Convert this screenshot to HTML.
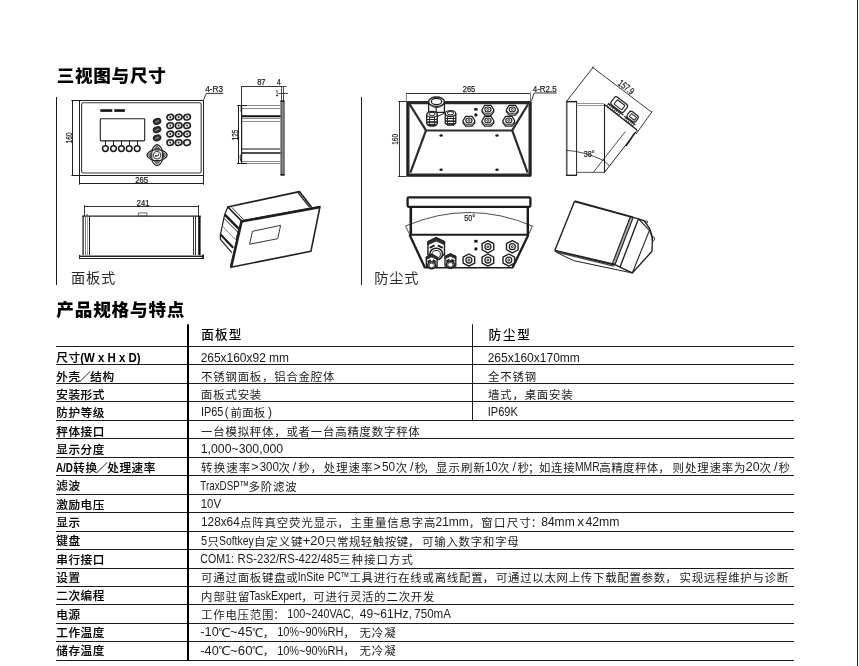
<!DOCTYPE html>
<html lang="zh-CN">
<head>
<meta charset="utf-8">
<title>三视图与尺寸 / 产品规格与特点</title>
<style>
html,body{margin:0;padding:0;background:#fff;}
body{width:859px;height:666px;overflow:hidden;position:relative;}
svg{position:absolute;left:0;top:0;display:block;will-change:transform;filter:grayscale(1);}
text{font-family:"Liberation Sans", "Noto Sans CJK SC", sans-serif;white-space:pre;}
text.c{font-family:"Noto Sans CJK SC","Liberation Sans",sans-serif;}
text.w{font-family:"WenQuanYi Zen Hei","Noto Sans CJK SC",sans-serif;}
</style>
</head>
<body>
<svg width="859" height="666" viewBox="0 0 859 666">
<rect width="859" height="666" fill="#fff"/>
<g id="drawings" fill="none" stroke="#111" stroke-width="1" stroke-linejoin="round" stroke-linecap="butt">
<g id="panel-front">
<line x1="71.40" y1="100.50" x2="203.80" y2="100.50" stroke="#1f1f1f" stroke-width="1.0" stroke-linecap="butt"/>
<line x1="72.50" y1="100.10" x2="72.50" y2="175.90" stroke="#1f1f1f" stroke-width="1.0" stroke-linecap="butt"/>
<line x1="71.40" y1="175.50" x2="203.80" y2="175.50" stroke="#1f1f1f" stroke-width="1.0" stroke-linecap="butt"/>
<line x1="79.50" y1="100.60" x2="79.50" y2="184.70" stroke="#1f1f1f" stroke-width="1.0" stroke-linecap="butt"/>
<line x1="203.50" y1="100.60" x2="203.50" y2="184.70" stroke="#1f1f1f" stroke-width="1.0" stroke-linecap="butt"/>
<line x1="79.20" y1="183.50" x2="203.30" y2="183.50" stroke="#1f1f1f" stroke-width="1.0" stroke-linecap="butt"/>
<rect x="81.60" y="102.80" width="119.60" height="70.20" rx="1.6" stroke="#3a3a3a" stroke-width="1.1" fill="none"/>
<path d="M203.30 100.60 L206.30 93.40 L223.30 93.40" stroke="#1f1f1f" stroke-width="0.9" fill="none" stroke-linejoin="round"/>
<text x="205.20" y="92.20" font-size="9.9" font-weight="400" text-anchor="start" fill="#222" stroke="#222" stroke-width="0.25" textLength="18.0" lengthAdjust="spacingAndGlyphs">4-R3</text>
<text x="72.00" y="143.30" font-size="9.9" font-weight="400" text-anchor="start" fill="#222" stroke="#222" stroke-width="0.25" textLength="10.8" lengthAdjust="spacingAndGlyphs" transform="rotate(-90 72.00 143.30)">160</text>
<text x="135.20" y="182.60" font-size="9.9" font-weight="400" text-anchor="start" fill="#222" stroke="#222" stroke-width="0.25" textLength="13.0" lengthAdjust="spacingAndGlyphs">265</text>
<rect x="100.30" y="109.20" width="12.00" height="2.70" rx="0" stroke="#1f1f1f" stroke-width="0" fill="#1a1a1a"/>
<rect x="114.30" y="109.20" width="10.60" height="2.70" rx="0" stroke="#1f1f1f" stroke-width="0" fill="#1a1a1a"/>
<rect x="100.30" y="118.70" width="44.40" height="22.20" rx="0.8" stroke="#1f1f1f" stroke-width="1.1" fill="none"/>
<line x1="105.50" y1="140.90" x2="105.50" y2="145.60" stroke="#1f1f1f" stroke-width="1.0" stroke-linecap="butt"/>
<ellipse cx="105.40" cy="148.60" rx="2.85" ry="2.85" stroke="#1f1f1f" stroke-width="1.5" fill="none"/>
<line x1="113.50" y1="140.90" x2="113.50" y2="145.60" stroke="#1f1f1f" stroke-width="1.0" stroke-linecap="butt"/>
<ellipse cx="113.50" cy="148.60" rx="2.85" ry="2.85" stroke="#1f1f1f" stroke-width="1.5" fill="none"/>
<line x1="121.50" y1="140.90" x2="121.50" y2="145.60" stroke="#1f1f1f" stroke-width="1.0" stroke-linecap="butt"/>
<ellipse cx="121.40" cy="148.60" rx="2.85" ry="2.85" stroke="#1f1f1f" stroke-width="1.5" fill="none"/>
<line x1="129.50" y1="140.90" x2="129.50" y2="145.60" stroke="#1f1f1f" stroke-width="1.0" stroke-linecap="butt"/>
<ellipse cx="129.20" cy="148.60" rx="2.85" ry="2.85" stroke="#1f1f1f" stroke-width="1.5" fill="none"/>
<line x1="137.50" y1="140.90" x2="137.50" y2="145.60" stroke="#1f1f1f" stroke-width="1.0" stroke-linecap="butt"/>
<ellipse cx="137.20" cy="148.60" rx="2.85" ry="2.85" stroke="#1f1f1f" stroke-width="1.5" fill="none"/>
<ellipse cx="157.10" cy="121.40" rx="3.70" ry="2.75" stroke="#1f1f1f" stroke-width="1.3" fill="#3a3a3a" transform="rotate(-18 157.10 121.40)"/>
<line x1="155.30" y1="122.30" x2="158.90" y2="120.50" stroke="#c8c8c8" stroke-width="0.7" stroke-linecap="butt"/>
<ellipse cx="157.10" cy="129.70" rx="3.70" ry="2.75" stroke="#1f1f1f" stroke-width="1.3" fill="#3a3a3a" transform="rotate(-18 157.10 129.70)"/>
<line x1="155.30" y1="130.60" x2="158.90" y2="128.80" stroke="#c8c8c8" stroke-width="0.7" stroke-linecap="butt"/>
<ellipse cx="157.10" cy="137.90" rx="3.70" ry="2.75" stroke="#1f1f1f" stroke-width="1.3" fill="#3a3a3a" transform="rotate(-18 157.10 137.90)"/>
<line x1="155.30" y1="138.80" x2="158.90" y2="137.00" stroke="#c8c8c8" stroke-width="0.7" stroke-linecap="butt"/>
<ellipse cx="170.30" cy="117.20" rx="3.35" ry="2.80" stroke="#1f1f1f" stroke-width="1.55" fill="#ececec" transform="rotate(-12 170.30 117.20)"/>
<ellipse cx="170.30" cy="117.20" rx="0.90" ry="1.10" stroke="#1f1f1f" stroke-width="0" fill="#2a2a2a"/>
<ellipse cx="178.70" cy="117.20" rx="3.35" ry="2.80" stroke="#1f1f1f" stroke-width="1.55" fill="#ececec" transform="rotate(-12 178.70 117.20)"/>
<ellipse cx="178.70" cy="117.20" rx="0.90" ry="1.10" stroke="#1f1f1f" stroke-width="0" fill="#2a2a2a"/>
<ellipse cx="187.10" cy="117.20" rx="3.35" ry="2.80" stroke="#1f1f1f" stroke-width="1.55" fill="#ececec" transform="rotate(-12 187.10 117.20)"/>
<ellipse cx="187.10" cy="117.20" rx="0.90" ry="1.10" stroke="#1f1f1f" stroke-width="0" fill="#2a2a2a"/>
<ellipse cx="170.30" cy="125.60" rx="3.35" ry="2.80" stroke="#1f1f1f" stroke-width="1.55" fill="#ececec" transform="rotate(-12 170.30 125.60)"/>
<ellipse cx="170.30" cy="125.60" rx="0.90" ry="1.10" stroke="#1f1f1f" stroke-width="0" fill="#2a2a2a"/>
<ellipse cx="178.70" cy="125.60" rx="3.35" ry="2.80" stroke="#1f1f1f" stroke-width="1.55" fill="#ececec" transform="rotate(-12 178.70 125.60)"/>
<ellipse cx="178.70" cy="125.60" rx="0.90" ry="1.10" stroke="#1f1f1f" stroke-width="0" fill="#2a2a2a"/>
<ellipse cx="187.10" cy="125.60" rx="3.35" ry="2.80" stroke="#1f1f1f" stroke-width="1.55" fill="#ececec" transform="rotate(-12 187.10 125.60)"/>
<ellipse cx="187.10" cy="125.60" rx="0.90" ry="1.10" stroke="#1f1f1f" stroke-width="0" fill="#2a2a2a"/>
<ellipse cx="170.30" cy="134.00" rx="3.35" ry="2.80" stroke="#1f1f1f" stroke-width="1.55" fill="#ececec" transform="rotate(-12 170.30 134.00)"/>
<ellipse cx="170.30" cy="134.00" rx="0.90" ry="1.10" stroke="#1f1f1f" stroke-width="0" fill="#2a2a2a"/>
<ellipse cx="178.70" cy="134.00" rx="3.35" ry="2.80" stroke="#1f1f1f" stroke-width="1.55" fill="#ececec" transform="rotate(-12 178.70 134.00)"/>
<ellipse cx="178.70" cy="134.00" rx="0.90" ry="1.10" stroke="#1f1f1f" stroke-width="0" fill="#2a2a2a"/>
<ellipse cx="187.10" cy="134.00" rx="3.35" ry="2.80" stroke="#1f1f1f" stroke-width="1.55" fill="#ececec" transform="rotate(-12 187.10 134.00)"/>
<ellipse cx="187.10" cy="134.00" rx="0.90" ry="1.10" stroke="#1f1f1f" stroke-width="0" fill="#2a2a2a"/>
<ellipse cx="170.30" cy="142.60" rx="3.35" ry="2.80" stroke="#1f1f1f" stroke-width="1.55" fill="#ececec" transform="rotate(-12 170.30 142.60)"/>
<ellipse cx="170.30" cy="142.60" rx="0.90" ry="1.10" stroke="#1f1f1f" stroke-width="0" fill="#2a2a2a"/>
<ellipse cx="178.70" cy="142.60" rx="3.35" ry="2.80" stroke="#1f1f1f" stroke-width="1.55" fill="#ececec" transform="rotate(-12 178.70 142.60)"/>
<ellipse cx="178.70" cy="142.60" rx="0.90" ry="1.10" stroke="#1f1f1f" stroke-width="0" fill="#2a2a2a"/>
<ellipse cx="187.10" cy="142.60" rx="3.35" ry="2.80" stroke="#1f1f1f" stroke-width="1.55" fill="#ececec" transform="rotate(-12 187.10 142.60)"/>
<path d="M146.90 155.20 Q147.50 152.60 151.70 150.60 Q153.50 145.60 157.10 144.60 Q160.70 145.60 162.50 150.60 Q166.70 152.60 167.30 155.20 Q166.70 157.80 162.50 159.80 Q160.70 164.80 157.10 165.80 Q153.50 164.80 151.70 159.80 Q147.50 157.80 146.90 155.20 Z" stroke="#1f1f1f" stroke-width="1.1" fill="none" stroke-linejoin="round"/>
<rect x="151.80" y="149.90" width="10.60" height="10.60" rx="2.6" stroke="#1f1f1f" stroke-width="1.1" fill="none"/>
<ellipse cx="157.10" cy="155.20" rx="3.70" ry="3.90" stroke="#1f1f1f" stroke-width="0.9" fill="none"/>
<path d="M148.50 155.20 L150.70 152.70 L150.70 157.70 Z" stroke="#1f1f1f" stroke-width="0.8" fill="#9a9a9a" stroke-linejoin="round"/>
<path d="M165.70 155.20 L163.50 152.70 L163.50 157.70 Z" stroke="#1f1f1f" stroke-width="0.8" fill="#9a9a9a" stroke-linejoin="round"/>
<path d="M157.10 146.20 L154.50 148.70 L159.70 148.70 Z" stroke="#1f1f1f" stroke-width="0.8" fill="#9a9a9a" stroke-linejoin="round"/>
<path d="M157.10 164.20 L154.50 161.70 L159.70 161.70 Z" stroke="#1f1f1f" stroke-width="0.8" fill="#9a9a9a" stroke-linejoin="round"/>
<path d="M158.50 153.60 L158.50 155.80 L155.50 155.80" stroke="#1f1f1f" stroke-width="0.8" fill="none" stroke-linejoin="round"/>
<ellipse cx="155.80" cy="155.90" rx="0.80" ry="0.80" stroke="#1f1f1f" stroke-width="0" fill="#222"/>
</g>
<g id="panel-side">
<line x1="241.50" y1="86.30" x2="241.50" y2="105.50" stroke="#1f1f1f" stroke-width="0.9" stroke-linecap="butt"/>
<line x1="241.50" y1="86.50" x2="282.70" y2="86.50" stroke="#1f1f1f" stroke-width="0.9" stroke-linecap="butt"/>
<line x1="281.50" y1="86.30" x2="281.50" y2="100.70" stroke="#1f1f1f" stroke-width="0.8" stroke-linecap="butt"/>
<line x1="283.50" y1="86.30" x2="283.50" y2="100.70" stroke="#1f1f1f" stroke-width="0.8" stroke-linecap="butt"/>
<line x1="282.70" y1="86.50" x2="286.60" y2="86.50" stroke="#1f1f1f" stroke-width="0.8" stroke-linecap="butt"/>
<line x1="278.40" y1="93.50" x2="288.00" y2="93.50" stroke="#1f1f1f" stroke-width="0.8" stroke-linecap="butt"/>
<text x="257.20" y="85.40" font-size="9.6" font-weight="400" text-anchor="start" fill="#222" stroke="#222" stroke-width="0.25" textLength="8.3" lengthAdjust="spacingAndGlyphs">87</text>
<text x="276.80" y="85.40" font-size="9.6" font-weight="400" text-anchor="start" fill="#222" stroke="#222" stroke-width="0.25" textLength="4.0" lengthAdjust="spacingAndGlyphs">4</text>
<text x="275.80" y="96.40" font-size="9.6" font-weight="400" text-anchor="start" fill="#222" stroke="#222" stroke-width="0.25" textLength="2.6" lengthAdjust="spacingAndGlyphs">1</text>
<rect x="281.00" y="100.90" width="3.10" height="74.20" rx="0" stroke="#2a2a2a" stroke-width="0.9" fill="#8c8c8c"/>
<rect x="280.40" y="100.40" width="4.20" height="1.40" rx="0" stroke="#1f1f1f" stroke-width="0" fill="#222"/>
<rect x="280.40" y="174.00" width="4.20" height="1.50" rx="0" stroke="#1f1f1f" stroke-width="0" fill="#222"/>
<line x1="237.20" y1="105.50" x2="247.20" y2="105.50" stroke="#1f1f1f" stroke-width="1.0" stroke-linecap="butt"/>
<line x1="247.20" y1="105.50" x2="280.60" y2="105.50" stroke="#8a8a8a" stroke-width="1.0" stroke-linecap="butt"/>
<line x1="241.50" y1="108.50" x2="280.60" y2="108.50" stroke="#8a8a8a" stroke-width="1.0" stroke-linecap="butt"/>
<line x1="241.50" y1="116.20" x2="280.60" y2="116.20" stroke="#111" stroke-width="1.9" stroke-linecap="butt"/>
<line x1="241.50" y1="118.50" x2="280.60" y2="118.50" stroke="#8a8a8a" stroke-width="1.0" stroke-linecap="butt"/>
<line x1="241.50" y1="121.50" x2="280.60" y2="121.50" stroke="#8a8a8a" stroke-width="1.0" stroke-linecap="butt"/>
<line x1="241.50" y1="148.50" x2="280.60" y2="148.50" stroke="#8a8a8a" stroke-width="1.0" stroke-linecap="butt"/>
<line x1="241.50" y1="149.50" x2="280.60" y2="149.50" stroke="#8a8a8a" stroke-width="1.0" stroke-linecap="butt"/>
<line x1="241.50" y1="153.00" x2="280.60" y2="153.00" stroke="#111" stroke-width="1.7" stroke-linecap="butt"/>
<line x1="241.50" y1="161.50" x2="280.60" y2="161.50" stroke="#8a8a8a" stroke-width="1.0" stroke-linecap="butt"/>
<line x1="237.00" y1="163.50" x2="247.60" y2="163.50" stroke="#1f1f1f" stroke-width="1.0" stroke-linecap="butt"/>
<line x1="247.60" y1="163.50" x2="280.60" y2="163.50" stroke="#8a8a8a" stroke-width="1.0" stroke-linecap="butt"/>
<line x1="238.50" y1="105.50" x2="238.50" y2="163.50" stroke="#1f1f1f" stroke-width="1.0" stroke-linecap="butt"/>
<line x1="241.60" y1="105.50" x2="241.60" y2="163.50" stroke="#1f1f1f" stroke-width="1.2" stroke-linecap="butt"/>
<line x1="240.50" y1="105.50" x2="240.50" y2="112.00" stroke="#8a8a8a" stroke-width="0.8" stroke-linecap="butt"/>
<path d="M240.4 154.5 Q239.6 158 241.0 161.5" stroke="#1f1f1f" stroke-width="0.9" fill="none" stroke-linejoin="round"/>
<text x="237.60" y="140.20" font-size="9.6" font-weight="400" text-anchor="start" fill="#222" stroke="#222" stroke-width="0.25" textLength="10.6" lengthAdjust="spacingAndGlyphs" transform="rotate(-90 237.60 140.20)">125</text>
</g>
<g id="panel-top">
<line x1="84.50" y1="205.10" x2="84.50" y2="216.20" stroke="#1f1f1f" stroke-width="0.9" stroke-linecap="butt"/>
<line x1="198.50" y1="205.10" x2="198.50" y2="216.20" stroke="#1f1f1f" stroke-width="0.9" stroke-linecap="butt"/>
<line x1="84.40" y1="206.50" x2="198.50" y2="206.50" stroke="#1f1f1f" stroke-width="0.9" stroke-linecap="butt"/>
<text x="136.80" y="205.60" font-size="9.7" font-weight="400" text-anchor="start" fill="#222" stroke="#222" stroke-width="0.25" textLength="12.6" lengthAdjust="spacingAndGlyphs">241</text>
<line x1="82.20" y1="216.10" x2="200.80" y2="216.10" stroke="#1f1f1f" stroke-width="1.3" stroke-linecap="butt"/>
<rect x="138.40" y="212.90" width="8.50" height="3.10" rx="0" stroke="#444" stroke-width="0.8" fill="none"/>
<line x1="83.10" y1="216.00" x2="83.10" y2="255.00" stroke="#1f1f1f" stroke-width="1.3" stroke-linecap="butt"/>
<line x1="85.50" y1="216.50" x2="85.50" y2="255.00" stroke="#666" stroke-width="0.9" stroke-linecap="butt"/>
<line x1="87.50" y1="216.50" x2="87.50" y2="255.00" stroke="#999" stroke-width="0.9" stroke-linecap="butt"/>
<line x1="89.50" y1="216.50" x2="89.50" y2="255.00" stroke="#1f1f1f" stroke-width="1.0" stroke-linecap="butt"/>
<ellipse cx="87.30" cy="215.00" rx="0.90" ry="0.80" stroke="#1f1f1f" stroke-width="0" fill="#444"/>
<line x1="193.50" y1="216.50" x2="193.50" y2="255.00" stroke="#1f1f1f" stroke-width="0.9" stroke-linecap="butt"/>
<line x1="195.50" y1="216.50" x2="195.50" y2="255.00" stroke="#1f1f1f" stroke-width="0.9" stroke-linecap="butt"/>
<line x1="199.40" y1="216.00" x2="199.40" y2="255.50" stroke="#111" stroke-width="2.4" stroke-linecap="butt"/>
<line x1="79.10" y1="255.50" x2="203.50" y2="255.50" stroke="#8a8a8a" stroke-width="0.9" stroke-linecap="butt"/>
<line x1="79.10" y1="256.50" x2="203.50" y2="256.50" stroke="#1f1f1f" stroke-width="1.0" stroke-linecap="butt"/>
<line x1="79.10" y1="258.50" x2="203.50" y2="258.50" stroke="#1f1f1f" stroke-width="1.1" stroke-linecap="butt"/>
<line x1="79.50" y1="254.80" x2="79.50" y2="258.90" stroke="#1f1f1f" stroke-width="0.9" stroke-linecap="butt"/>
<rect x="202.20" y="254.60" width="1.70" height="4.30" rx="0" stroke="#1f1f1f" stroke-width="0" fill="#111"/>
</g>
<g id="panel-iso">
<path d="M241.50 220.90 L320.00 206.60 L310.90 251.30 L230.80 267.20 Z" stroke="#1f1f1f" stroke-width="1.6" fill="none" stroke-linejoin="round"/>
<path d="M241.20 221.60 L319.40 207.40" stroke="#1f1f1f" stroke-width="2.3" fill="none" stroke-linejoin="round"/>
<path d="M241.60 221.20 L231.20 266.60" stroke="#1f1f1f" stroke-width="2.6" fill="none" stroke-linejoin="round"/>
<path d="M252.40 231.30 L280.60 225.40 L277.70 238.70 L249.60 244.20 Z" stroke="#1f1f1f" stroke-width="0.9" fill="none" stroke-linejoin="round"/>
<path d="M241.50 220.90 L227.80 207.00 L299.40 191.60 L311.40 206.90" stroke="#1f1f1f" stroke-width="1.7" fill="none" stroke-linejoin="round"/>
<path d="M231.80 207.40 L243.60 219.60" stroke="#1f1f1f" stroke-width="0.9" fill="none" stroke-linejoin="round"/>
<path d="M298.00 192.60 L309.60 207.40" stroke="#1f1f1f" stroke-width="1.2" fill="none" stroke-linejoin="round"/>
<path d="M227.80 207.00 L224.60 214.80 L220.40 234.70 L220.40 239.40 L231.80 252.60" stroke="#1f1f1f" stroke-width="1.2" fill="none" stroke-linejoin="round"/>
<path d="M224.80 214.60 L238.60 228.60" stroke="#1f1f1f" stroke-width="2.6" fill="none" stroke-linejoin="round"/>
<path d="M224.00 218.40 L237.80 232.20" stroke="#1f1f1f" stroke-width="1.0" fill="none" stroke-linejoin="round"/>
<path d="M220.60 234.50 L233.20 247.80" stroke="#1f1f1f" stroke-width="2.2" fill="none" stroke-linejoin="round"/>
<path d="M238.60 228.60 L236.00 240.00" stroke="#1f1f1f" stroke-width="0.9" fill="none" stroke-linejoin="round"/>
<path d="M222.40 226.00 L235.60 239.60" stroke="#666" stroke-width="0.8" fill="none" stroke-linejoin="round"/>
</g>
<g id="dust-front">
<line x1="406.50" y1="92.50" x2="406.50" y2="101.50" stroke="#777" stroke-width="0.9" stroke-linecap="butt"/>
<line x1="406.50" y1="93.50" x2="530.60" y2="93.50" stroke="#1f1f1f" stroke-width="0.9" stroke-linecap="butt"/>
<line x1="530.50" y1="92.50" x2="530.50" y2="101.50" stroke="#777" stroke-width="0.9" stroke-linecap="butt"/>
<path d="M531.30 101.30 L534.20 93.00 L556.80 93.00" stroke="#1f1f1f" stroke-width="0.9" fill="none" stroke-linejoin="round"/>
<text x="532.80" y="92.00" font-size="9.9" font-weight="400" text-anchor="start" fill="#222" stroke="#222" stroke-width="0.25" textLength="23.8" lengthAdjust="spacingAndGlyphs">4-R2.5</text>
<text x="462.80" y="92.20" font-size="9.9" font-weight="400" text-anchor="start" fill="#222" stroke="#222" stroke-width="0.25" textLength="12.4" lengthAdjust="spacingAndGlyphs">265</text>
<line x1="398.20" y1="101.50" x2="406.60" y2="101.50" stroke="#1f1f1f" stroke-width="0.9" stroke-linecap="butt"/>
<line x1="398.00" y1="176.50" x2="406.60" y2="176.50" stroke="#1f1f1f" stroke-width="0.9" stroke-linecap="butt"/>
<line x1="399.50" y1="101.00" x2="399.50" y2="176.80" stroke="#1f1f1f" stroke-width="0.9" stroke-linecap="butt"/>
<text x="398.40" y="144.80" font-size="9.9" font-weight="400" text-anchor="start" fill="#222" stroke="#222" stroke-width="0.25" textLength="11.0" lengthAdjust="spacingAndGlyphs" transform="rotate(-90 398.40 144.80)">160</text>
<rect x="408.00" y="102.70" width="122.00" height="72.30" rx="0" stroke="#2b2b2b" stroke-width="3.0" fill="none"/>
<rect x="407.00" y="101.70" width="124.00" height="74.50" rx="0" stroke="#111" stroke-width="0.8" fill="none"/>
<line x1="409.60" y1="104.20" x2="426.00" y2="130.40" stroke="#2b2b2b" stroke-width="2.2" stroke-linecap="butt"/>
<line x1="528.00" y1="104.20" x2="512.20" y2="130.40" stroke="#2b2b2b" stroke-width="2.2" stroke-linecap="butt"/>
<line x1="426.00" y1="130.40" x2="410.40" y2="172.60" stroke="#2b2b2b" stroke-width="2.2" stroke-linecap="butt"/>
<line x1="512.20" y1="130.40" x2="527.60" y2="172.60" stroke="#2b2b2b" stroke-width="2.2" stroke-linecap="butt"/>
<line x1="425.60" y1="130.50" x2="512.60" y2="130.50" stroke="#2b2b2b" stroke-width="1.9" stroke-linecap="butt"/>
<ellipse cx="441.10" cy="135.50" rx="1.70" ry="1.30" stroke="#1f1f1f" stroke-width="0" fill="#1a1a1a"/>
<ellipse cx="497.00" cy="135.50" rx="1.70" ry="1.30" stroke="#1f1f1f" stroke-width="0" fill="#1a1a1a"/>
<ellipse cx="441.10" cy="169.70" rx="1.70" ry="1.30" stroke="#1f1f1f" stroke-width="0" fill="#1a1a1a"/>
<ellipse cx="497.00" cy="169.70" rx="1.70" ry="1.30" stroke="#1f1f1f" stroke-width="0" fill="#1a1a1a"/>
<path d="M428.60 101.70 L428.60 112.30 L444.40 112.30 L444.40 101.70" stroke="#1f1f1f" stroke-width="1.3" fill="#fff" stroke-linejoin="round"/>
<ellipse cx="436.50" cy="101.70" rx="7.90" ry="4.70" stroke="#1f1f1f" stroke-width="1.4" fill="#fff"/>
<ellipse cx="436.50" cy="101.50" rx="5.20" ry="3.10" stroke="#1f1f1f" stroke-width="1.2" fill="#fff"/>
<path d="M428.60 103.90 Q436.50 111.30 444.40 103.90" stroke="#1f1f1f" stroke-width="1.0" fill="none" stroke-linejoin="round"/>
<line x1="436.20" y1="107.30" x2="436.20" y2="113.10" stroke="#1f1f1f" stroke-width="1.2" stroke-linecap="butt"/>
<path d="M426.70 114.60 L426.70 123.80 L429.40 126.00 L434.60 126.00 L437.30 123.80 L437.30 114.60" stroke="#1f1f1f" stroke-width="1.3" fill="#fff" stroke-linejoin="round"/>
<ellipse cx="432.00" cy="114.40" rx="5.30" ry="2.90" stroke="#1f1f1f" stroke-width="1.3" fill="#fff"/>
<ellipse cx="432.00" cy="114.00" rx="3.20" ry="1.70" stroke="#1f1f1f" stroke-width="1.0" fill="none"/>
<line x1="429.50" y1="117.10" x2="429.50" y2="126.00" stroke="#1f1f1f" stroke-width="0.9" stroke-linecap="butt"/>
<line x1="434.50" y1="117.10" x2="434.50" y2="126.00" stroke="#1f1f1f" stroke-width="0.9" stroke-linecap="butt"/>
<line x1="426.70" y1="119.50" x2="437.30" y2="119.50" stroke="#1f1f1f" stroke-width="1.0" stroke-linecap="butt"/>
<line x1="426.70" y1="122.00" x2="437.30" y2="122.00" stroke="#2a2a2a" stroke-width="1.7" stroke-linecap="butt"/>
<line x1="427.40" y1="124.80" x2="436.60" y2="124.80" stroke="#2a2a2a" stroke-width="1.9" stroke-linecap="butt"/>
<path d="M445.20 113.80 L445.20 123.00 L447.90 125.20 L453.10 125.20 L455.80 123.00 L455.80 113.80" stroke="#1f1f1f" stroke-width="1.3" fill="#fff" stroke-linejoin="round"/>
<ellipse cx="450.50" cy="113.60" rx="5.30" ry="2.90" stroke="#1f1f1f" stroke-width="1.3" fill="#fff"/>
<ellipse cx="450.50" cy="113.20" rx="3.20" ry="1.70" stroke="#1f1f1f" stroke-width="1.0" fill="none"/>
<line x1="447.50" y1="116.30" x2="447.50" y2="125.20" stroke="#1f1f1f" stroke-width="0.9" stroke-linecap="butt"/>
<line x1="453.50" y1="116.30" x2="453.50" y2="125.20" stroke="#1f1f1f" stroke-width="0.9" stroke-linecap="butt"/>
<line x1="445.20" y1="118.50" x2="455.80" y2="118.50" stroke="#1f1f1f" stroke-width="1.0" stroke-linecap="butt"/>
<line x1="445.20" y1="121.20" x2="455.80" y2="121.20" stroke="#2a2a2a" stroke-width="1.7" stroke-linecap="butt"/>
<line x1="445.90" y1="124.00" x2="455.10" y2="124.00" stroke="#2a2a2a" stroke-width="1.9" stroke-linecap="butt"/>
<path d="M437.50 116.50 L444.80 113.00 L444.80 110.50" stroke="#1f1f1f" stroke-width="1.0" fill="none" stroke-linejoin="round"/>
<path d="M482.10 109.50 L484.71 105.40 L491.09 105.40 L493.70 109.50 L493.70 111.90 L491.09 115.20 L484.71 115.20 L482.10 111.90 Z" stroke="#1f1f1f" stroke-width="1.3" fill="none" stroke-linejoin="round"/>
<path d="M482.10 110.60 L484.71 113.30 L491.09 113.30 L493.70 110.60" stroke="#1f1f1f" stroke-width="0.9" fill="none" stroke-linejoin="round"/>
<ellipse cx="487.90" cy="109.40" rx="3.10" ry="2.40" stroke="#1f1f1f" stroke-width="1.1" fill="none"/>
<ellipse cx="487.90" cy="109.40" rx="1.10" ry="0.90" stroke="#1f1f1f" stroke-width="0.9" fill="none"/>
<path d="M506.50 109.50 L509.11 105.40 L515.49 105.40 L518.10 109.50 L518.10 111.90 L515.49 115.20 L509.11 115.20 L506.50 111.90 Z" stroke="#1f1f1f" stroke-width="1.3" fill="none" stroke-linejoin="round"/>
<path d="M506.50 110.60 L509.11 113.30 L515.49 113.30 L518.10 110.60" stroke="#1f1f1f" stroke-width="0.9" fill="none" stroke-linejoin="round"/>
<ellipse cx="512.30" cy="109.40" rx="3.10" ry="2.40" stroke="#1f1f1f" stroke-width="1.1" fill="none"/>
<ellipse cx="512.30" cy="109.40" rx="1.10" ry="0.90" stroke="#1f1f1f" stroke-width="0.9" fill="none"/>
<path d="M463.10 120.50 L465.71 116.40 L472.09 116.40 L474.70 120.50 L474.70 122.90 L472.09 126.20 L465.71 126.20 L463.10 122.90 Z" stroke="#1f1f1f" stroke-width="1.3" fill="none" stroke-linejoin="round"/>
<path d="M463.10 121.60 L465.71 124.30 L472.09 124.30 L474.70 121.60" stroke="#1f1f1f" stroke-width="0.9" fill="none" stroke-linejoin="round"/>
<ellipse cx="468.90" cy="120.40" rx="3.10" ry="2.40" stroke="#1f1f1f" stroke-width="1.1" fill="none"/>
<ellipse cx="468.90" cy="120.40" rx="1.10" ry="0.90" stroke="#1f1f1f" stroke-width="0.9" fill="none"/>
<path d="M482.10 120.50 L484.71 116.40 L491.09 116.40 L493.70 120.50 L493.70 122.90 L491.09 126.20 L484.71 126.20 L482.10 122.90 Z" stroke="#1f1f1f" stroke-width="1.3" fill="none" stroke-linejoin="round"/>
<path d="M482.10 121.60 L484.71 124.30 L491.09 124.30 L493.70 121.60" stroke="#1f1f1f" stroke-width="0.9" fill="none" stroke-linejoin="round"/>
<ellipse cx="487.90" cy="120.40" rx="3.10" ry="2.40" stroke="#1f1f1f" stroke-width="1.1" fill="none"/>
<ellipse cx="487.90" cy="120.40" rx="1.10" ry="0.90" stroke="#1f1f1f" stroke-width="0.9" fill="none"/>
<path d="M503.00 120.50 L505.61 116.40 L511.99 116.40 L514.60 120.50 L514.60 122.90 L511.99 126.20 L505.61 126.20 L503.00 122.90 Z" stroke="#1f1f1f" stroke-width="1.3" fill="none" stroke-linejoin="round"/>
<path d="M503.00 121.60 L505.61 124.30 L511.99 124.30 L514.60 121.60" stroke="#1f1f1f" stroke-width="0.9" fill="none" stroke-linejoin="round"/>
<ellipse cx="508.80" cy="120.40" rx="3.10" ry="2.40" stroke="#1f1f1f" stroke-width="1.1" fill="none"/>
<ellipse cx="508.80" cy="120.40" rx="1.10" ry="0.90" stroke="#1f1f1f" stroke-width="0.9" fill="none"/>
<rect x="474.20" y="108.10" width="3.40" height="2.50" rx="0" stroke="#1f1f1f" stroke-width="0" fill="#1a1a1a"/>
<ellipse cx="475.90" cy="114.90" rx="1.70" ry="1.60" stroke="#1f1f1f" stroke-width="0" fill="#1a1a1a"/>
</g>
<g id="dust-side">
<line x1="566.40" y1="101.50" x2="593.90" y2="66.40" stroke="#1f1f1f" stroke-width="0.9" stroke-linecap="butt"/>
<line x1="592.30" y1="67.20" x2="651.80" y2="112.30" stroke="#1f1f1f" stroke-width="0.9" stroke-linecap="butt"/>
<line x1="652.40" y1="111.20" x2="636.00" y2="134.00" stroke="#1f1f1f" stroke-width="0.9" stroke-linecap="butt"/>
<text x="617.30" y="84.60" font-size="9.7" font-weight="400" text-anchor="start" fill="#222" stroke="#222" stroke-width="0.25" textLength="17.4" lengthAdjust="spacingAndGlyphs" transform="rotate(37.3 617.30 84.60)">157.9</text>
<rect x="566.40" y="101.60" width="10.20" height="73.80" rx="0" stroke="#1f1f1f" stroke-width="1.0" fill="none"/>
<line x1="567.00" y1="101.60" x2="567.00" y2="175.40" stroke="#777" stroke-width="1.4" stroke-linecap="butt"/>
<line x1="566.00" y1="101.60" x2="577.00" y2="101.60" stroke="#1f1f1f" stroke-width="1.4" stroke-linecap="butt"/>
<line x1="566.00" y1="175.30" x2="577.00" y2="175.30" stroke="#1f1f1f" stroke-width="1.2" stroke-linecap="butt"/>
<line x1="576.60" y1="103.50" x2="604.00" y2="103.50" stroke="#8a8a8a" stroke-width="0.9" stroke-linecap="butt"/>
<line x1="576.60" y1="105.50" x2="604.00" y2="105.50" stroke="#8a8a8a" stroke-width="0.9" stroke-linecap="butt"/>
<line x1="604.50" y1="104.00" x2="604.50" y2="172.80" stroke="#1f1f1f" stroke-width="1.1" stroke-linecap="butt"/>
<line x1="576.60" y1="172.40" x2="604.00" y2="172.40" stroke="#777" stroke-width="1.3" stroke-linecap="butt"/>
<line x1="604.00" y1="104.20" x2="637.00" y2="130.00" stroke="#1f1f1f" stroke-width="1.4" stroke-linecap="butt"/>
<line x1="637.30" y1="130.20" x2="604.30" y2="172.60" stroke="#1f1f1f" stroke-width="1.0" stroke-linecap="butt"/>
<line x1="625.30" y1="131.60" x2="593.20" y2="172.50" stroke="#1f1f1f" stroke-width="0.8" stroke-linecap="butt"/>
<line x1="634.90" y1="132.80" x2="625.90" y2="146.10" stroke="#1f1f1f" stroke-width="1.6" stroke-linecap="butt"/>
<path d="M566.2 150.3 Q585 151.5 603.7 160.6 L609.3 165.6" stroke="#1f1f1f" stroke-width="0.8" fill="none" stroke-linejoin="round"/>
<text x="583.80" y="157.40" font-size="9.9" font-weight="400" text-anchor="start" fill="#222" stroke="#222" stroke-width="0.25" textLength="10.8" lengthAdjust="spacingAndGlyphs">38°</text>
<g transform="translate(613.58 111.89) rotate(37.6)">
<rect x="-8.10" y="-14.00" width="16.20" height="9.60" rx="2.4" stroke="#1f1f1f" stroke-width="1.2" fill="none"/>
<rect x="-4.40" y="-12.00" width="9.60" height="5.60" rx="0.5" stroke="#1f1f1f" stroke-width="1.0" fill="none"/>
<line x1="-9.70" y1="-3.50" x2="9.70" y2="-3.50" stroke="#1f1f1f" stroke-width="1.2" stroke-linecap="butt"/>
<ellipse cx="-8.00" cy="-1.70" rx="1.25" ry="1.25" stroke="#1f1f1f" stroke-width="0.9" fill="#fff"/>
<ellipse cx="-3.60" cy="-1.70" rx="1.25" ry="1.25" stroke="#1f1f1f" stroke-width="0.9" fill="#fff"/>
<ellipse cx="0.80" cy="-1.70" rx="1.25" ry="1.25" stroke="#1f1f1f" stroke-width="0.9" fill="#fff"/>
<ellipse cx="5.20" cy="-1.70" rx="1.25" ry="1.25" stroke="#1f1f1f" stroke-width="0.9" fill="#fff"/>
</g>
<g transform="translate(627.84 122.87) rotate(37.6)">
<rect x="-5.40" y="-11.60" width="10.80" height="7.60" rx="2.4" stroke="#1f1f1f" stroke-width="1.2" fill="none"/>
<rect x="-2.80" y="-9.60" width="6.40" height="3.60" rx="0.5" stroke="#1f1f1f" stroke-width="1.0" fill="none"/>
<line x1="-7.00" y1="-3.10" x2="7.00" y2="-3.10" stroke="#1f1f1f" stroke-width="1.2" stroke-linecap="butt"/>
<ellipse cx="-3.60" cy="-1.70" rx="1.25" ry="1.25" stroke="#1f1f1f" stroke-width="0.9" fill="#fff"/>
<ellipse cx="0.60" cy="-1.70" rx="1.25" ry="1.25" stroke="#1f1f1f" stroke-width="0.9" fill="#fff"/>
<ellipse cx="4.80" cy="-1.70" rx="1.25" ry="1.25" stroke="#1f1f1f" stroke-width="0.9" fill="#fff"/>
</g>
</g>
<g id="dust-bottom">
<rect x="407.60" y="197.40" width="122.80" height="9.40" rx="1.2" stroke="#1c1c1c" stroke-width="2.3" fill="none"/>
<line x1="410.80" y1="207.00" x2="410.80" y2="235.00" stroke="#1c1c1c" stroke-width="2.6" stroke-linecap="butt"/>
<line x1="527.80" y1="207.00" x2="527.80" y2="235.00" stroke="#1c1c1c" stroke-width="2.4" stroke-linecap="butt"/>
<line x1="409.60" y1="234.70" x2="529.00" y2="234.70" stroke="#1c1c1c" stroke-width="2.0" stroke-linecap="butt"/>
<path d="M405.6 226.0 Q469 199.0 532.3 226.0" stroke="#1f1f1f" stroke-width="0.8" fill="none" stroke-linejoin="round"/>
<line x1="405.60" y1="226.00" x2="409.40" y2="234.00" stroke="#1f1f1f" stroke-width="0.8" stroke-linecap="butt"/>
<line x1="532.60" y1="225.60" x2="529.00" y2="234.00" stroke="#1f1f1f" stroke-width="0.8" stroke-linecap="butt"/>
<text x="464.20" y="221.20" font-size="9.9" font-weight="400" text-anchor="start" fill="#222" stroke="#222" stroke-width="0.25" textLength="10.9" lengthAdjust="spacingAndGlyphs">50°</text>
<path d="M409.60 234.70 L424.80 267.60" stroke="#1c1c1c" stroke-width="2.3" fill="none" stroke-linejoin="round"/>
<path d="M528.40 234.70 L512.60 267.60" stroke="#1c1c1c" stroke-width="2.3" fill="none" stroke-linejoin="round"/>
<line x1="424.20" y1="267.70" x2="513.20" y2="267.70" stroke="#1c1c1c" stroke-width="1.6" stroke-linecap="butt"/>
<path d="M436.20 237.60 L444.50 241.70 L444.50 255.00 L427.90 255.00 L427.90 241.70 Z" stroke="#1f1f1f" stroke-width="1.4" fill="#fff" stroke-linejoin="round"/>
<path d="M427.90 241.70 L436.20 237.60 L444.50 241.70 L444.50 244.70 L436.20 241.00 L427.90 244.70 Z" stroke="#1f1f1f" stroke-width="0.8" fill="#2e2e2e" stroke-linejoin="round"/>
<path d="M429.70 247.80 L434.60 245.40" stroke="#1f1f1f" stroke-width="1.9" fill="none" stroke-linejoin="round"/>
<path d="M442.70 247.80 L437.80 245.40" stroke="#1f1f1f" stroke-width="1.9" fill="none" stroke-linejoin="round"/>
<ellipse cx="436.20" cy="254.00" rx="6.40" ry="5.70" stroke="#1f1f1f" stroke-width="1.6" fill="#fff"/>
<ellipse cx="436.20" cy="254.30" rx="4.20" ry="3.80" stroke="#1f1f1f" stroke-width="1.0" fill="none"/>
<path d="M431.70 254.40 L437.10 257.00 L437.10 266.60 L426.30 266.60 L426.30 257.00 Z" stroke="#1f1f1f" stroke-width="1.3" fill="#fff" stroke-linejoin="round"/>
<path d="M426.30 257.00 L431.70 254.40 L437.10 257.00 L437.10 259.40 L431.70 256.90 L426.30 259.40 Z" stroke="#1f1f1f" stroke-width="0.8" fill="#2e2e2e" stroke-linejoin="round"/>
<path d="M427.50 261.80 L430.70 260.10" stroke="#1f1f1f" stroke-width="1.7" fill="none" stroke-linejoin="round"/>
<path d="M435.90 261.80 L432.70 260.10" stroke="#1f1f1f" stroke-width="1.7" fill="none" stroke-linejoin="round"/>
<ellipse cx="431.70" cy="265.20" rx="4.00" ry="3.50" stroke="#1f1f1f" stroke-width="1.6" fill="#fff"/>
<ellipse cx="431.70" cy="265.40" rx="2.70" ry="2.30" stroke="#1f1f1f" stroke-width="0.9" fill="none"/>
<path d="M450.40 253.80 L455.80 256.40 L455.80 266.00 L445.00 266.00 L445.00 256.40 Z" stroke="#1f1f1f" stroke-width="1.3" fill="#fff" stroke-linejoin="round"/>
<path d="M445.00 256.40 L450.40 253.80 L455.80 256.40 L455.80 258.80 L450.40 256.30 L445.00 258.80 Z" stroke="#1f1f1f" stroke-width="0.8" fill="#2e2e2e" stroke-linejoin="round"/>
<path d="M446.20 261.20 L449.40 259.50" stroke="#1f1f1f" stroke-width="1.7" fill="none" stroke-linejoin="round"/>
<path d="M454.60 261.20 L451.40 259.50" stroke="#1f1f1f" stroke-width="1.7" fill="none" stroke-linejoin="round"/>
<ellipse cx="450.40" cy="264.60" rx="4.00" ry="3.50" stroke="#1f1f1f" stroke-width="1.6" fill="#fff"/>
<ellipse cx="450.40" cy="264.80" rx="2.70" ry="2.30" stroke="#1f1f1f" stroke-width="0.9" fill="none"/>
<path d="M487.90 240.60 L493.70 243.65 L493.70 249.75 L487.90 252.80 L482.10 249.75 L482.10 243.65 Z" stroke="#1f1f1f" stroke-width="1.4" fill="none" stroke-linejoin="round"/>
<ellipse cx="487.90" cy="246.70" rx="3.00" ry="3.00" stroke="#1f1f1f" stroke-width="1.2" fill="none"/>
<ellipse cx="487.90" cy="246.70" rx="1.00" ry="1.00" stroke="#1f1f1f" stroke-width="1.0" fill="none"/>
<path d="M512.30 240.60 L518.10 243.65 L518.10 249.75 L512.30 252.80 L506.50 249.75 L506.50 243.65 Z" stroke="#1f1f1f" stroke-width="1.4" fill="none" stroke-linejoin="round"/>
<ellipse cx="512.30" cy="246.70" rx="3.00" ry="3.00" stroke="#1f1f1f" stroke-width="1.2" fill="none"/>
<ellipse cx="512.30" cy="246.70" rx="1.00" ry="1.00" stroke="#1f1f1f" stroke-width="1.0" fill="none"/>
<path d="M468.90 254.00 L474.70 257.05 L474.70 263.15 L468.90 266.20 L463.10 263.15 L463.10 257.05 Z" stroke="#1f1f1f" stroke-width="1.4" fill="none" stroke-linejoin="round"/>
<ellipse cx="468.90" cy="260.10" rx="3.00" ry="3.00" stroke="#1f1f1f" stroke-width="1.2" fill="none"/>
<ellipse cx="468.90" cy="260.10" rx="1.00" ry="1.00" stroke="#1f1f1f" stroke-width="1.0" fill="none"/>
<path d="M487.90 254.00 L493.70 257.05 L493.70 263.15 L487.90 266.20 L482.10 263.15 L482.10 257.05 Z" stroke="#1f1f1f" stroke-width="1.4" fill="none" stroke-linejoin="round"/>
<ellipse cx="487.90" cy="260.10" rx="3.00" ry="3.00" stroke="#1f1f1f" stroke-width="1.2" fill="none"/>
<ellipse cx="487.90" cy="260.10" rx="1.00" ry="1.00" stroke="#1f1f1f" stroke-width="1.0" fill="none"/>
<path d="M508.80 254.00 L514.60 257.05 L514.60 263.15 L508.80 266.20 L503.00 263.15 L503.00 257.05 Z" stroke="#1f1f1f" stroke-width="1.4" fill="none" stroke-linejoin="round"/>
<ellipse cx="508.80" cy="260.10" rx="3.00" ry="3.00" stroke="#1f1f1f" stroke-width="1.2" fill="none"/>
<ellipse cx="508.80" cy="260.10" rx="1.00" ry="1.00" stroke="#1f1f1f" stroke-width="1.0" fill="none"/>
<rect x="474.20" y="239.90" width="3.40" height="2.70" rx="0" stroke="#1f1f1f" stroke-width="0" fill="#1a1a1a"/>
<ellipse cx="475.90" cy="248.90" rx="1.70" ry="1.60" stroke="#1f1f1f" stroke-width="0" fill="#1a1a1a"/>
</g>
<g id="dust-iso">
<path d="M630.39 216.68 L633.27 217.41 L614.96 264.72 L612.21 263.99 Z" stroke="#1f1f1f" stroke-width="0" fill="#a8a8a8" stroke-linejoin="round"/>
<path d="M554.81 250.58 L574.57 201.25" stroke="#1f1f1f" stroke-width="1.4" fill="none" stroke-linejoin="round"/>
<path d="M574.57 201.25 L633.27 217.41" stroke="#1f1f1f" stroke-width="1.9" fill="none" stroke-linejoin="round"/>
<path d="M554.81 250.58 L614.96 264.72" stroke="#1f1f1f" stroke-width="1.9" fill="none" stroke-linejoin="round"/>
<path d="M633.27 217.41 L614.96 264.72" stroke="#1f1f1f" stroke-width="1.1" fill="none" stroke-linejoin="round"/>
<path d="M630.39 216.68 L612.21 263.99" stroke="#1f1f1f" stroke-width="1.1" fill="none" stroke-linejoin="round"/>
<path d="M633.27 217.41 L638.47 218.85 L620.00 267.17 L614.96 264.72" stroke="#1f1f1f" stroke-width="1.35" fill="none" stroke-linejoin="round"/>
<path d="M638.47 218.85 L644.52 221.01 L650.01 229.23 L652.46 237.60 L652.02 251.30 L632.26 272.94 L620.00 267.17" stroke="#1f1f1f" stroke-width="1.35" fill="none" stroke-linejoin="round"/>
<path d="M638.47 218.85 L649.43 230.39 L632.70 271.93" stroke="#1f1f1f" stroke-width="1.1" fill="none" stroke-linejoin="round"/>
<path d="M649.43 230.39 L652.02 237.60" stroke="#1f1f1f" stroke-width="0.9" fill="none" stroke-linejoin="round"/>
<path d="M554.81 250.58 L556.83 252.60 L573.85 260.68 L630.10 272.50 L632.26 272.94" stroke="#1f1f1f" stroke-width="1.0" fill="none" stroke-linejoin="round"/>
<path d="M556.54 252.02 L613.95 266.16" stroke="#444" stroke-width="1.4" fill="none" stroke-linejoin="round"/>
<ellipse cx="653.18" cy="238.75" rx="1.40" ry="2.00" stroke="#1f1f1f" stroke-width="0.9" fill="none"/>
<ellipse cx="646.40" cy="222.02" rx="1.30" ry="1.10" stroke="#1f1f1f" stroke-width="0.9" fill="none"/>
</g>
</g>
<g id="texts">
<text x="56.66" y="81.90" font-size="17.6" font-weight="900" fill="#000" letter-spacing="0.72" class="c">三视图与尺寸</text>
<text x="56.31" y="315.70" font-size="17.6" font-weight="900" fill="#000" letter-spacing="0.83" class="c">产品规格与特点</text>
<line x1="56.50" y1="97" x2="56.50" y2="285" stroke="#1c1c1c" stroke-width="1.0"/>
<line x1="361.50" y1="97" x2="361.50" y2="285" stroke="#1c1c1c" stroke-width="1.0"/>
<line x1="857.50" y1="0" x2="857.50" y2="666" stroke="#222" stroke-width="1.0"/>
<text x="70.92" y="282.90" font-size="14.2" font-weight="400" fill="#2a2a2a" letter-spacing="0.83" class="c">面板式</text>
<text x="374.15" y="282.90" font-size="14.2" font-weight="400" fill="#2a2a2a" letter-spacing="0.90" class="c">防尘式</text>
<line x1="56.0" y1="346.50" x2="794.0" y2="346.50" stroke="#1c1c1c" stroke-width="1.0"/>
<line x1="56.0" y1="364.50" x2="794.0" y2="364.50" stroke="#1c1c1c" stroke-width="1.0"/>
<line x1="56.0" y1="383.50" x2="794.0" y2="383.50" stroke="#1c1c1c" stroke-width="1.0"/>
<line x1="56.0" y1="401.50" x2="794.0" y2="401.50" stroke="#1c1c1c" stroke-width="1.0"/>
<line x1="56.0" y1="420.50" x2="794.0" y2="420.50" stroke="#1c1c1c" stroke-width="1.0"/>
<line x1="56.0" y1="438.50" x2="794.0" y2="438.50" stroke="#1c1c1c" stroke-width="1.0"/>
<line x1="56.0" y1="457.50" x2="794.0" y2="457.50" stroke="#1c1c1c" stroke-width="1.0"/>
<line x1="56.0" y1="475.50" x2="794.0" y2="475.50" stroke="#1c1c1c" stroke-width="1.0"/>
<line x1="56.0" y1="494.50" x2="794.0" y2="494.50" stroke="#1c1c1c" stroke-width="1.0"/>
<line x1="56.0" y1="512.50" x2="794.0" y2="512.50" stroke="#1c1c1c" stroke-width="1.0"/>
<line x1="56.0" y1="531.50" x2="794.0" y2="531.50" stroke="#1c1c1c" stroke-width="1.0"/>
<line x1="56.0" y1="549.50" x2="794.0" y2="549.50" stroke="#1c1c1c" stroke-width="1.0"/>
<line x1="56.0" y1="568.50" x2="794.0" y2="568.50" stroke="#1c1c1c" stroke-width="1.0"/>
<line x1="56.0" y1="586.50" x2="794.0" y2="586.50" stroke="#1c1c1c" stroke-width="1.0"/>
<line x1="56.0" y1="604.50" x2="794.0" y2="604.50" stroke="#1c1c1c" stroke-width="1.0"/>
<line x1="56.0" y1="623.50" x2="794.0" y2="623.50" stroke="#1c1c1c" stroke-width="1.0"/>
<line x1="56.0" y1="641.50" x2="794.0" y2="641.50" stroke="#1c1c1c" stroke-width="1.0"/>
<line x1="56.0" y1="660.50" x2="794.0" y2="660.50" stroke="#1c1c1c" stroke-width="1.0"/>
<line x1="188.00" y1="324.2" x2="188.00" y2="661.0" stroke="#000" stroke-width="2.0"/>
<line x1="472.50" y1="324.2" x2="472.50" y2="421.0" stroke="#1c1c1c" stroke-width="1.0"/>
<text x="201.22" y="339.20" font-size="12.6" font-weight="500" fill="#000" letter-spacing="1.23" class="c">面板型</text>
<text x="488.52" y="339.20" font-size="12.6" font-weight="500" fill="#000" letter-spacing="1.83" class="c">防尘型</text>
<text x="56.20" y="362.25" font-size="11.6" font-weight="500" fill="#000" letter-spacing="0.60" class="c" stroke="#000" stroke-width="0.12">尺寸</text>
<text x="80.30" y="362.10" font-size="12.0" font-weight="700" fill="#000" textLength="60.20" lengthAdjust="spacingAndGlyphs">(W x H x D)</text>
<text x="200.70" y="361.50" font-size="12.4" font-weight="400" fill="#1a1a1a" textLength="88.30" lengthAdjust="spacingAndGlyphs">265x160x92 mm</text>
<text x="487.70" y="361.50" font-size="12.4" font-weight="400" fill="#1a1a1a" textLength="92.20" lengthAdjust="spacingAndGlyphs">265x160x170mm</text>
<text x="56.20" y="380.57" font-size="11.6" font-weight="500" fill="#000" letter-spacing="0.60" class="c" stroke="#000" stroke-width="0.12">外壳</text>
<text x="79.30" y="380.57" font-size="11.6" font-weight="700" fill="#000">／</text>
<text x="90.20" y="380.57" font-size="11.6" font-weight="500" fill="#000" letter-spacing="0.60" class="c" stroke="#000" stroke-width="0.12">结构</text>
<text x="201.10" y="380.67" font-size="11.4" font-weight="400" fill="#1a1a1a" letter-spacing="0.80" class="c">不锈钢面板，铝合金腔体</text>
<text x="488.10" y="380.67" font-size="11.4" font-weight="400" fill="#1a1a1a" letter-spacing="0.80" class="c">全不锈钢</text>
<text x="56.20" y="398.89" font-size="11.6" font-weight="500" fill="#000" letter-spacing="0.60" class="c" stroke="#000" stroke-width="0.12">安装形式</text>
<text x="201.10" y="398.99" font-size="11.4" font-weight="400" fill="#1a1a1a" letter-spacing="0.80" class="c">面板式安装</text>
<text x="488.10" y="398.99" font-size="11.4" font-weight="400" fill="#1a1a1a" letter-spacing="0.80" class="c">墙式，桌面安装</text>
<text x="56.20" y="417.21" font-size="11.6" font-weight="500" fill="#000" letter-spacing="0.60" class="c" stroke="#000" stroke-width="0.12">防护等级</text>
<text x="201.00" y="416.46" font-size="12.4" font-weight="400" fill="#1a1a1a" textLength="22.40" lengthAdjust="spacingAndGlyphs">IP65</text>
<text x="224.70" y="416.46" font-size="12.4" font-weight="400" fill="#1a1a1a" textLength="3.80" lengthAdjust="spacingAndGlyphs">(</text>
<text x="230.60" y="417.31" font-size="11.4" font-weight="400" fill="#1a1a1a" letter-spacing="0.20" class="c">前面板</text>
<text x="267.90" y="416.46" font-size="12.4" font-weight="400" fill="#1a1a1a" textLength="4.00" lengthAdjust="spacingAndGlyphs">)</text>
<text x="487.70" y="416.46" font-size="12.4" font-weight="400" fill="#1a1a1a" textLength="30.20" lengthAdjust="spacingAndGlyphs">IP69K</text>
<text x="56.20" y="435.53" font-size="11.6" font-weight="500" fill="#000" letter-spacing="0.60" class="c" stroke="#000" stroke-width="0.12">秤体接口</text>
<text x="201.10" y="435.63" font-size="11.4" font-weight="400" fill="#1a1a1a" letter-spacing="0.80" class="c">一台模拟秤体，或者一台高精度数字秤体</text>
<text x="56.20" y="453.85" font-size="11.6" font-weight="500" fill="#000" letter-spacing="0.60" class="c" stroke="#000" stroke-width="0.12">显示分度</text>
<text x="200.70" y="453.10" font-size="12.4" font-weight="400" fill="#1a1a1a" textLength="82.50" lengthAdjust="spacingAndGlyphs">1,000~300,000</text>
<text x="55.90" y="472.02" font-size="12.0" font-weight="700" fill="#000" textLength="17.00" lengthAdjust="spacingAndGlyphs">A/D</text>
<text x="73.20" y="472.17" font-size="11.6" font-weight="500" fill="#000" letter-spacing="0.60" class="c" stroke="#000" stroke-width="0.12">转换</text>
<text x="96.30" y="472.17" font-size="11.6" font-weight="700" fill="#000">／</text>
<text x="107.20" y="472.17" font-size="11.6" font-weight="500" fill="#000" letter-spacing="0.60" class="c" stroke="#000" stroke-width="0.12">处理速率</text>
<text x="201.12" y="472.27" font-size="11.4" font-weight="400" fill="#1a1a1a" letter-spacing="1.13" class="c">转换速率</text>
<text x="251.33" y="471.42" font-size="12.4" font-weight="400" fill="#1a1a1a">&gt;</text>
<text x="259.69" y="471.42" font-size="12.4" font-weight="400" fill="#1a1a1a" textLength="19.16" lengthAdjust="spacingAndGlyphs">300</text>
<text x="278.42" y="472.27" font-size="11.4" font-weight="400" fill="#1a1a1a" letter-spacing="0.75" class="c">次</text>
<text x="292.81" y="471.42" font-size="12.4" font-weight="400" fill="#1a1a1a">/</text>
<text x="298.21" y="472.27" font-size="11.4" font-weight="400" fill="#1a1a1a" letter-spacing="0.75" class="c">秒</text>
<text x="310.55" y="472.27" font-size="11.4" font-weight="400" fill="#1a1a1a" letter-spacing="0.75" class="c">，</text>
<text x="323.82" y="472.27" font-size="11.4" font-weight="400" fill="#1a1a1a" letter-spacing="0.98" class="c">处理速率</text>
<text x="373.57" y="471.42" font-size="12.4" font-weight="400" fill="#1a1a1a">&gt;</text>
<text x="381.93" y="471.42" font-size="12.4" font-weight="400" fill="#1a1a1a" textLength="13.11" lengthAdjust="spacingAndGlyphs">50</text>
<text x="395.77" y="472.27" font-size="11.4" font-weight="400" fill="#1a1a1a" letter-spacing="0.75" class="c">次</text>
<text x="409.92" y="471.42" font-size="12.4" font-weight="400" fill="#1a1a1a">/</text>
<text x="414.62" y="472.27" font-size="11.4" font-weight="400" fill="#1a1a1a" letter-spacing="0.75" class="c">秒</text>
<text x="423.24" y="472.27" font-size="11.4" font-weight="400" fill="#1a1a1a" letter-spacing="0.75" class="c">，</text>
<text x="436.04" y="472.27" font-size="11.4" font-weight="400" fill="#1a1a1a" letter-spacing="1.13" class="c">显示刷新</text>
<text x="485.30" y="471.42" font-size="12.4" font-weight="400" fill="#1a1a1a" textLength="12.64" lengthAdjust="spacingAndGlyphs">10</text>
<text x="497.74" y="472.27" font-size="11.4" font-weight="400" fill="#1a1a1a" letter-spacing="0.75" class="c">次</text>
<text x="512.60" y="471.42" font-size="12.4" font-weight="400" fill="#1a1a1a">/</text>
<text x="517.53" y="472.27" font-size="11.4" font-weight="400" fill="#1a1a1a" letter-spacing="0.75" class="c">秒</text>
<text x="528.01" y="472.27" font-size="11.4" font-weight="400" fill="#1a1a1a" letter-spacing="0.75" class="c">；</text>
<text x="538.95" y="472.27" font-size="11.4" font-weight="400" fill="#1a1a1a" letter-spacing="0.76" class="c">如连接</text>
<text x="574.94" y="471.42" font-size="12.4" font-weight="400" fill="#1a1a1a" textLength="24.75" lengthAdjust="spacingAndGlyphs">MMR</text>
<text x="599.26" y="472.27" font-size="11.4" font-weight="400" fill="#1a1a1a" letter-spacing="0.50" class="c">高精度秤体</text>
<text x="658.16" y="472.27" font-size="11.4" font-weight="400" fill="#1a1a1a" letter-spacing="0.75" class="c">，</text>
<text x="672.60" y="472.27" font-size="11.4" font-weight="400" fill="#1a1a1a" letter-spacing="0.91" class="c">则处理速率为</text>
<text x="745.84" y="471.42" font-size="12.4" font-weight="400" fill="#1a1a1a" textLength="13.81" lengthAdjust="spacingAndGlyphs">20</text>
<text x="759.44" y="472.27" font-size="11.4" font-weight="400" fill="#1a1a1a" letter-spacing="0.75" class="c">次</text>
<text x="774.07" y="471.42" font-size="12.4" font-weight="400" fill="#1a1a1a">/</text>
<text x="778.54" y="472.27" font-size="11.4" font-weight="400" fill="#1a1a1a" letter-spacing="0.75" class="c">秒</text>
<text x="56.20" y="490.49" font-size="11.6" font-weight="500" fill="#000" letter-spacing="0.60" class="c" stroke="#000" stroke-width="0.12">滤波</text>
<text x="200.32" y="489.74" font-size="12.4" font-weight="400" fill="#1a1a1a" textLength="39.42" lengthAdjust="spacingAndGlyphs">TraxDSP</text>
<text x="239.20" y="489.74" font-size="12.4" font-weight="400" fill="#1a1a1a" textLength="9.85" lengthAdjust="spacingAndGlyphs">™</text>
<text x="248.62" y="490.59" font-size="11.4" font-weight="400" fill="#1a1a1a" letter-spacing="0.82" class="c">多阶滤波</text>
<text x="56.20" y="508.81" font-size="11.6" font-weight="500" fill="#000" letter-spacing="0.60" class="c" stroke="#000" stroke-width="0.12">激励电压</text>
<text x="200.70" y="508.06" font-size="12.4" font-weight="400" fill="#1a1a1a" textLength="20.30" lengthAdjust="spacingAndGlyphs">10V</text>
<text x="56.20" y="527.13" font-size="11.6" font-weight="500" fill="#000" letter-spacing="0.60" class="c" stroke="#000" stroke-width="0.12">显示</text>
<text x="201.02" y="526.38" font-size="12.4" font-weight="400" fill="#1a1a1a" textLength="38.72" lengthAdjust="spacingAndGlyphs">128x64</text>
<text x="240.00" y="527.23" font-size="11.4" font-weight="400" fill="#1a1a1a" letter-spacing="0.89" class="c">点阵真空荧光显示</text>
<text x="337.33" y="527.23" font-size="11.4" font-weight="400" fill="#1a1a1a" letter-spacing="0.75" class="c">，</text>
<text x="350.60" y="527.23" font-size="11.4" font-weight="400" fill="#1a1a1a" letter-spacing="0.84" class="c">主重量信息字高</text>
<text x="435.48" y="526.38" font-size="12.4" font-weight="400" fill="#1a1a1a" textLength="33.36" lengthAdjust="spacingAndGlyphs">21mm</text>
<text x="468.64" y="527.23" font-size="11.4" font-weight="400" fill="#1a1a1a" letter-spacing="0.75" class="c">，</text>
<text x="481.21" y="527.23" font-size="11.4" font-weight="400" fill="#1a1a1a" letter-spacing="1.36" class="c">窗口尺寸</text>
<text x="530.81" y="527.23" font-size="11.4" font-weight="400" fill="#1a1a1a" letter-spacing="0.75" class="c">：</text>
<text x="541.18" y="526.38" font-size="12.4" font-weight="400" fill="#1a1a1a" textLength="33.60" lengthAdjust="spacingAndGlyphs">84mm</text>
<text x="577.27" y="526.38" font-size="12.4" font-weight="400" fill="#1a1a1a" textLength="6.82" lengthAdjust="spacingAndGlyphs">x</text>
<text x="585.42" y="526.38" font-size="12.4" font-weight="400" fill="#1a1a1a" textLength="34.06" lengthAdjust="spacingAndGlyphs">42mm</text>
<text x="56.20" y="545.45" font-size="11.6" font-weight="500" fill="#000" letter-spacing="0.60" class="c" stroke="#000" stroke-width="0.12">键盘</text>
<text x="201.02" y="544.70" font-size="12.4" font-weight="400" fill="#1a1a1a" textLength="6.12" lengthAdjust="spacingAndGlyphs">5</text>
<text x="207.41" y="545.55" font-size="11.4" font-weight="400" fill="#1a1a1a" letter-spacing="0.75" class="c">只</text>
<text x="218.95" y="544.70" font-size="12.4" font-weight="400" fill="#1a1a1a" textLength="34.76" lengthAdjust="spacingAndGlyphs">Softkey</text>
<text x="253.97" y="545.55" font-size="11.4" font-weight="400" fill="#1a1a1a" letter-spacing="0.98" class="c">自定义键</text>
<text x="302.77" y="544.70" font-size="12.4" font-weight="400" fill="#1a1a1a" textLength="21.95" lengthAdjust="spacingAndGlyphs">+20</text>
<text x="324.99" y="545.55" font-size="11.4" font-weight="400" fill="#1a1a1a" letter-spacing="0.57" class="c">只常规轻触按键</text>
<text x="408.11" y="545.55" font-size="11.4" font-weight="400" fill="#1a1a1a" letter-spacing="0.75" class="c">，</text>
<text x="422.07" y="545.55" font-size="11.4" font-weight="400" fill="#1a1a1a" letter-spacing="0.79" class="c">可输入数字和字母</text>
<text x="56.20" y="563.77" font-size="11.6" font-weight="500" fill="#000" letter-spacing="0.60" class="c" stroke="#000" stroke-width="0.12">串行接口</text>
<text x="200.32" y="563.02" font-size="12.4" font-weight="400" fill="#1a1a1a" textLength="33.60" lengthAdjust="spacingAndGlyphs">COM1:</text>
<text x="237.57" y="563.02" font-size="12.4" font-weight="400" fill="#1a1a1a" textLength="101.81" lengthAdjust="spacingAndGlyphs">RS-232/RS-422/485</text>
<text x="338.95" y="563.87" font-size="11.4" font-weight="400" fill="#1a1a1a" letter-spacing="1.10" class="c">三种接口方式</text>
<text x="56.20" y="582.09" font-size="11.6" font-weight="500" fill="#000" letter-spacing="0.60" class="c" stroke="#000" stroke-width="0.12">设置</text>
<text x="201.12" y="582.19" font-size="11.4" font-weight="400" fill="#1a1a1a" letter-spacing="0.79" class="c">可通过面板键盘或</text>
<text x="297.64" y="581.34" font-size="12.4" font-weight="400" fill="#1a1a1a" textLength="26.61" lengthAdjust="spacingAndGlyphs">InSite</text>
<text x="327.68" y="581.34" font-size="12.4" font-weight="400" fill="#1a1a1a" textLength="13.34" lengthAdjust="spacingAndGlyphs">PC</text>
<text x="340.48" y="581.34" font-size="12.4" font-weight="400" fill="#1a1a1a" textLength="8.68" lengthAdjust="spacingAndGlyphs">™</text>
<text x="349.43" y="582.19" font-size="11.4" font-weight="400" fill="#1a1a1a" letter-spacing="0.79" class="c">工具进行在线或离线配置</text>
<text x="482.61" y="582.19" font-size="11.4" font-weight="400" fill="#1a1a1a" letter-spacing="0.75" class="c">，</text>
<text x="495.88" y="582.19" font-size="11.4" font-weight="400" fill="#1a1a1a" letter-spacing="0.75" class="c">可通过以太网上传下载配置参数</text>
<text x="665.15" y="582.19" font-size="11.4" font-weight="400" fill="#1a1a1a" letter-spacing="0.75" class="c">，</text>
<text x="679.58" y="582.19" font-size="11.4" font-weight="400" fill="#1a1a1a" letter-spacing="0.75" class="c">实现远程维护与诊断</text>
<text x="56.20" y="600.41" font-size="11.6" font-weight="500" fill="#000" letter-spacing="0.60" class="c" stroke="#000" stroke-width="0.12">二次编程</text>
<text x="201.12" y="600.51" font-size="11.4" font-weight="400" fill="#1a1a1a" letter-spacing="0.90" class="c">内部驻留</text>
<text x="249.21" y="599.66" font-size="12.4" font-weight="400" fill="#1a1a1a" textLength="52.22" lengthAdjust="spacingAndGlyphs">TaskExpert</text>
<text x="301.24" y="600.51" font-size="11.4" font-weight="400" fill="#1a1a1a" letter-spacing="0.75" class="c">，</text>
<text x="313.34" y="600.51" font-size="11.4" font-weight="400" fill="#1a1a1a" letter-spacing="0.80" class="c">可进行灵活的二次开发</text>
<text x="56.20" y="618.73" font-size="11.6" font-weight="500" fill="#000" letter-spacing="0.60" class="c" stroke="#000" stroke-width="0.12">电源</text>
<text x="201.12" y="618.83" font-size="11.4" font-weight="400" fill="#1a1a1a" letter-spacing="0.78" class="c">工作电压范围</text>
<text x="273.30" y="618.83" font-size="11.4" font-weight="400" fill="#1a1a1a" letter-spacing="0.75" class="c">：</text>
<text x="287.17" y="617.98" font-size="12.4" font-weight="400" fill="#1a1a1a" textLength="66.66" lengthAdjust="spacingAndGlyphs">100~240VAC,</text>
<text x="359.81" y="617.98" font-size="12.4" font-weight="400" fill="#1a1a1a" textLength="51.99" lengthAdjust="spacingAndGlyphs">49~61Hz,</text>
<text x="414.29" y="617.98" font-size="12.4" font-weight="400" fill="#1a1a1a" textLength="36.62" lengthAdjust="spacingAndGlyphs">750mA</text>
<text x="56.20" y="637.05" font-size="11.6" font-weight="500" fill="#000" letter-spacing="0.60" class="c" stroke="#000" stroke-width="0.12">工作温度</text>
<text x="200.32" y="636.30" font-size="12.4" font-weight="400" fill="#1a1a1a" textLength="18.46" lengthAdjust="spacingAndGlyphs">-10</text>
<text x="218.15" y="636.60" font-size="12.2" fill="#1a1a1a" class="w" textLength="12.38" lengthAdjust="spacingAndGlyphs">℃</text>
<text x="230.12" y="636.30" font-size="12.4" font-weight="400" fill="#1a1a1a" textLength="22.42" lengthAdjust="spacingAndGlyphs">~45</text>
<text x="251.91" y="636.60" font-size="12.2" fill="#1a1a1a" class="w" textLength="11.21" lengthAdjust="spacingAndGlyphs">℃</text>
<text x="262.82" y="637.15" font-size="11.4" font-weight="400" fill="#1a1a1a" letter-spacing="0.75" class="c">，</text>
<text x="277.15" y="636.30" font-size="12.4" font-weight="400" fill="#1a1a1a" textLength="66.19" lengthAdjust="spacingAndGlyphs">10%~90%RH</text>
<text x="343.15" y="637.15" font-size="11.4" font-weight="400" fill="#1a1a1a" letter-spacing="0.75" class="c">，</text>
<text x="359.44" y="637.15" font-size="11.4" font-weight="400" fill="#1a1a1a" letter-spacing="0.99" class="c">无冷凝</text>
<text x="56.20" y="655.37" font-size="11.6" font-weight="500" fill="#000" letter-spacing="0.60" class="c" stroke="#000" stroke-width="0.12">储存温度</text>
<text x="200.32" y="654.62" font-size="12.4" font-weight="400" fill="#1a1a1a" textLength="18.46" lengthAdjust="spacingAndGlyphs">-40</text>
<text x="218.15" y="654.92" font-size="12.2" fill="#1a1a1a" class="w" textLength="12.38" lengthAdjust="spacingAndGlyphs">℃</text>
<text x="230.12" y="654.62" font-size="12.4" font-weight="400" fill="#1a1a1a" textLength="22.42" lengthAdjust="spacingAndGlyphs">~60</text>
<text x="251.91" y="654.92" font-size="12.2" fill="#1a1a1a" class="w" textLength="11.21" lengthAdjust="spacingAndGlyphs">℃</text>
<text x="262.82" y="655.47" font-size="11.4" font-weight="400" fill="#1a1a1a" letter-spacing="0.75" class="c">，</text>
<text x="277.15" y="654.62" font-size="12.4" font-weight="400" fill="#1a1a1a" textLength="66.19" lengthAdjust="spacingAndGlyphs">10%~90%RH</text>
<text x="343.15" y="655.47" font-size="11.4" font-weight="400" fill="#1a1a1a" letter-spacing="0.75" class="c">，</text>
<text x="359.44" y="655.47" font-size="11.4" font-weight="400" fill="#1a1a1a" letter-spacing="0.99" class="c">无冷凝</text>
</g>
</svg>
</body>
</html>
